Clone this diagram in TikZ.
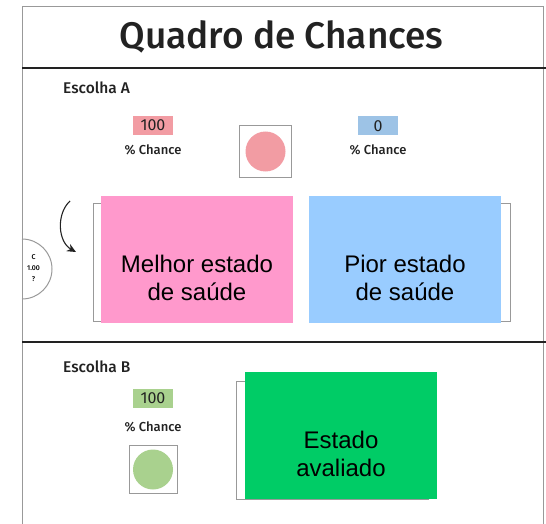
\documentclass[tikz,border=0pt]{standalone}
\usepackage{fontspec}
\setmainfont{Fira Sans}
\newfontfamily\medfont{Fira Sans Medium}
\newfontfamily\arialfont{Liberation Sans}
\usetikzlibrary{arrows.meta}

\definecolor{pinkstate}{HTML}{FF99CC}
\definecolor{bluestate}{HTML}{99CCFF}
\definecolor{greenstate}{HTML}{00CC66}
\definecolor{redchip}{HTML}{F29CA3}
\definecolor{bluechip}{HTML}{9DC3E6}
\definecolor{greenchip}{HTML}{A9D18E}
\definecolor{framegray}{HTML}{999999}
\definecolor{inkgray}{HTML}{222222}

\tikzset{
  choice/.style={anchor=west,inner sep=0pt,text=inkgray,font=\medfont\fontsize{15.5}{18}\selectfont},
  chip/.style={minimum width=40pt,minimum height=19pt,inner sep=0pt,text=inkgray,font=\fontsize{16}{18}\selectfont},
  pct/.style={inner sep=0pt,text=inkgray,font=\medfont\fontsize{13}{15}\selectfont},
  dial/.style={draw=framegray,line width=0.8pt,inner sep=0pt},
  state/.style={minimum width=192pt,minimum height=127pt,inner sep=0pt},
  statetext/.style={align=center,inner sep=0pt,font=\arialfont\fontsize{24}{28}\selectfont},
  backcard/.style={draw=framegray,line width=1pt,fill=white}
}

\begin{document}
\begin{tikzpicture}[x=1pt,y=-1pt]
\useasboundingbox (0,0) rectangle (546,524);
\draw [framegray,line width=1pt] (22,524) -- (22,7) -- (543,7) -- (543,524);
\draw [inkgray,line width=1.6pt] (22,68) -- (546,68);
\draw [inkgray,line width=1.6pt] (22,342) -- (546,342);
\node [text=inkgray,font=\medfont\fontsize{37}{42}\selectfont] (title) at (281.5,37) {Quadro de Chances};

\node [choice] (escA) at (63,88) {Escolha A};
\node [chip,fill=redchip] (chipA) at (153,125.5) {100};
\node [pct] (pctA) at (153,150) {\% Chance};
\node [dial,minimum size=52pt] (dialA) at (265.5,151.5) {};
\fill [redchip] (dialA.center) circle (20);
\node [chip,fill=bluechip] (chipA2) at (378,126) {0};
\node [pct] (pctA2) at (378,150) {\% Chance};

\draw [framegray,line width=1pt] (22,299) arc [start angle=90,end angle=-90,radius=30];
\node [font=\medfont\fontsize{7}{8}\selectfont,inner sep=0pt] (cval) at (33.5,257) {C};
\node [font=\medfont\fontsize{7}{8}\selectfont,inner sep=0pt] (cnum) at (33.5,268) {1.00};
\node [font=\medfont\fontsize{7}{8}\selectfont,inner sep=0pt] (cq) at (33.5,279) {?};
\coordinate (arrtop) at (70,201);
\coordinate (arrbot) at (76,252);
\draw [inkgray,line width=1.1pt,-{Stealth[length=9pt,width=8pt]}] (arrtop) .. controls (56,214) and (58,242) .. (arrbot);

\draw [backcard] (93,203) rectangle (285,321);
\node [state,fill=pinkstate] (best) at (197,259.5) {};
\node [statetext] (bestlbl) at (197,278) {Melhor estado\\de saúde};
\draw [backcard] (318,203) rectangle (510,321);
\node [state,fill=bluestate] (worst) at (405,259.5) {};
\node [statetext] (worstlbl) at (405,278) {Pior estado\\de saúde};

\node [choice] (escB) at (63,367) {Escolha B};
\node [chip,fill=greenchip] (chipB) at (153,398) {100};
\node [pct] (pctB) at (153,427) {\% Chance};
\node [dial,minimum size=48pt] (dialB) at (153,469.5) {};
\fill [greenchip] (dialB.center) circle (20);
\draw [backcard] (236,381) rectangle (428,499);
\node [state,fill=greenstate] (rated) at (341,435.5) {};
\node [statetext] (ratedlbl) at (341,454) {Estado\\avaliado};
\end{tikzpicture}
\end{document}
